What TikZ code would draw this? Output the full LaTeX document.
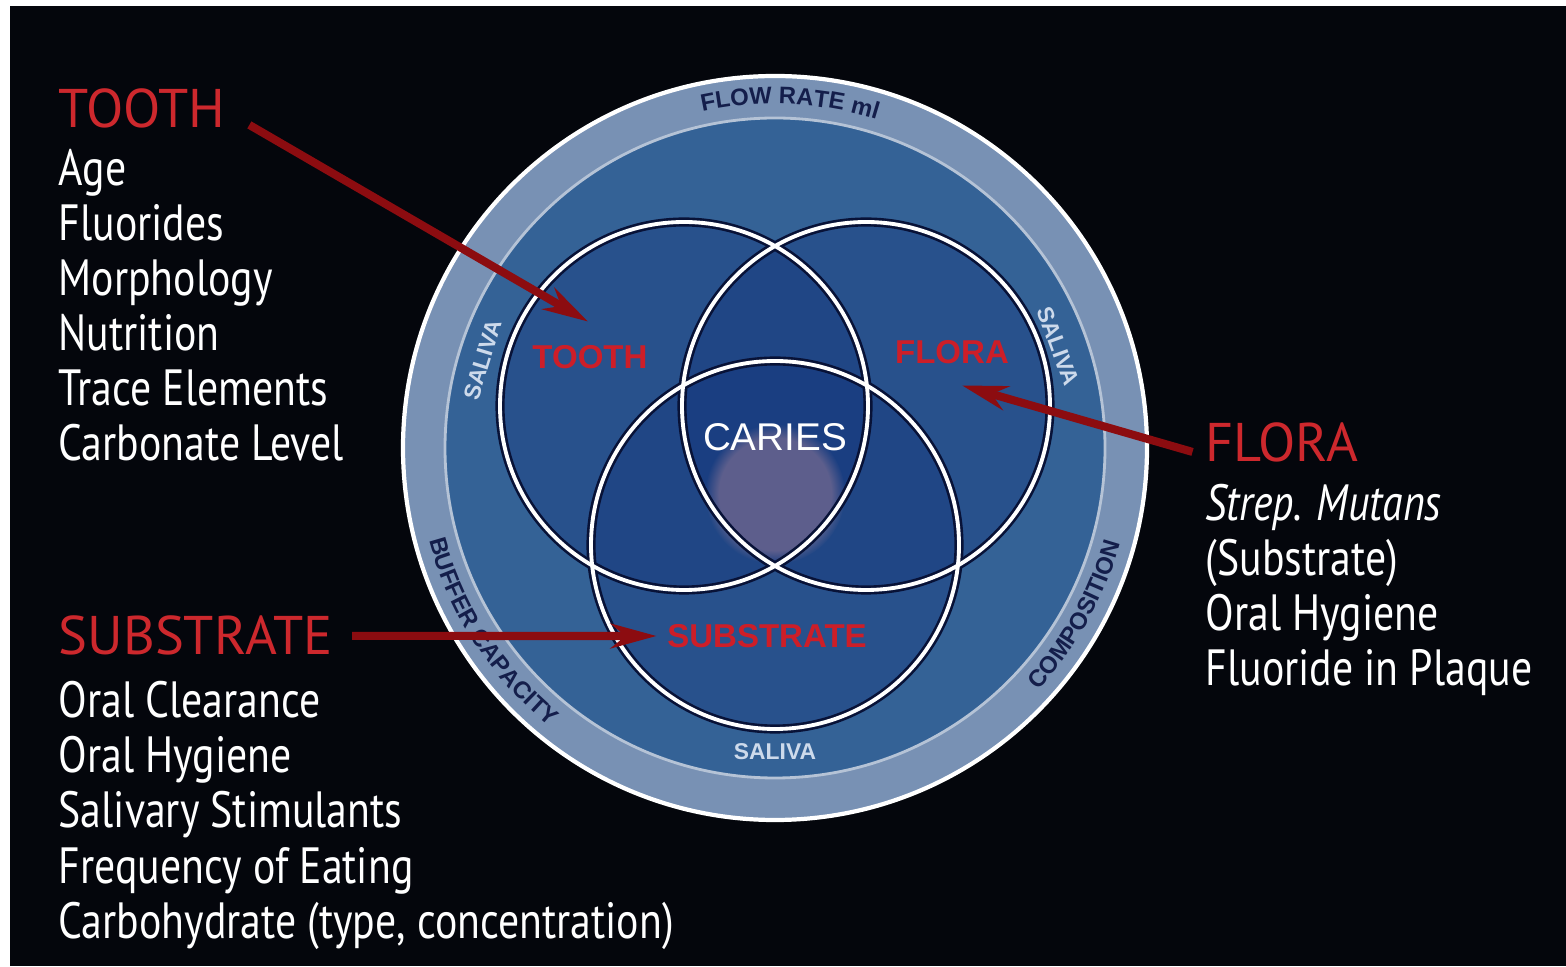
\documentclass[tikz,border=0pt]{standalone}
\usepackage{fontspec}
\setmainfont[FakeStretch=0.82]{PT Sans}
\newfontfamily\headfont{PT Sans}
\setsansfont{Liberation Sans}
\usetikzlibrary{arrows.meta, positioning, decorations.text, fadings}
\definecolor{bgblack}{RGB}{4,6,12}
\definecolor{ringblue}{RGB}{120,145,180}
\definecolor{diskblue}{RGB}{52,98,150}
\definecolor{setblue}{RGB}{15,45,120}
\definecolor{edgenavy}{RGB}{8,18,55}
\definecolor{headred}{RGB}{205,40,45}
\definecolor{labelred}{RGB}{205,30,40}
\definecolor{arrowred}{RGB}{140,12,16}
\definecolor{glowpink}{RGB}{175,135,155}
\definecolor{salivawhite}{RGB}{205,218,235}
\definecolor{ringtext}{RGB}{20,30,75}
\tikzstyle{heading}=[text=headred, font=\headfont\fontsize{15.5}{16}\selectfont, inner sep=3pt, anchor=base west]
\tikzstyle{factors}=[text=white, align=left, font=\fontsize{14.5}{15.65}\selectfont, inner sep=0pt, anchor=base west]
\tikzstyle{setlabel}=[text=labelred, font=\sffamily\bfseries\fontsize{9.4}{10}\selectfont, inner sep=2pt]
\tikzstyle{saliva}=[text=salivawhite, font=\sffamily\bfseries\fontsize{6.5}{7}\selectfont, inner sep=1pt]
\tikzstyle{pointer}=[arrowred, line width=2.3pt, -{Stealth[length=13pt,width=7pt]}]
\tikzstyle{ringlabel}=[decorate, decoration={text along path, text align=center, text color=ringtext}]

\begin{document}
\begin{tikzpicture}[x=0.1mm, y=0.1mm]
  \useasboundingbox (0,0) rectangle (1566,966);
  \fill[white] (0,0) rectangle (1566,966);
  \fill[bgblack] (10,0) rectangle (1566,960);

  % saliva ring and disk
  \coordinate (c) at (775,518);
  \fill[ringblue] (c) circle (372);
  \draw[white, line width=1.2pt] (c) circle (372);
  \fill[diskblue] (c) circle (330);
  \draw[ringblue!55!white, line width=0.8pt] (c) circle (330);

  % the three sets
  \coordinate (ct) at (684,560);
  \coordinate (cf) at (866,560);
  \coordinate (cs) at (775,421);
  \foreach \p in {ct, cf, cs}
    \fill[setblue, fill opacity=0.3] (\p) circle (184);
  \fill[glowpink, path fading=circle with fuzzy edge 20 percent, opacity=0.45] (775,472) circle (70);
  \foreach \p in {ct, cf, cs}
    \draw[edgenavy, line width=2.6pt] (\p) circle (184);
  \foreach \p in {ct, cf, cs}
    \draw[white, line width=1.1pt] (\p) circle (184);

  % ring texts
  \path[ringlabel, decoration={text={|\sffamily\bfseries\fontsize{6.8}{7}\selectfont|FLOW RATE ml}}]
    ([shift={(110:344)}]c) arc[start angle=110, end angle=65, radius=344];
  \path[ringlabel, decoration={text={|\sffamily\bfseries\fontsize{6.8}{7}\selectfont|BUFFER CAPACITY}}]
    ([shift={(186:358)}]c) arc[start angle=186, end angle=240, radius=358];
  \path[ringlabel, decoration={text={|\sffamily\bfseries\fontsize{6.8}{7}\selectfont|COMPOSITION}}]
    ([shift={(305:358)}]c) arc[start angle=305, end angle=357, radius=358];

  \node[saliva, rotate=73] (salivaw) at (483,606) {SALIVA};
  \node[saliva, rotate=-70] (salivae) at (1058,620) {SALIVA};
  \node[saliva] (salivas) at (775,214) {SALIVA};

  % labels inside
  \node[setlabel] (toothin) at (590,609) {TOOTH};
  \node[setlabel] (florain) at (952,614) {FLORA};
  \node[setlabel] (substin) at (767,330) {SUBSTRATE};
  \node[text=white, font=\sffamily\fontsize{11}{12}\selectfont] (caries) at (775,529) {CARIES};

  % factor lists (base = last line)
  \node[heading] (tooth) at (47.5,838) {TOOTH};
  \node[factors] (toothlist) at (58,505) {Age\\Fluorides\\Morphology\\Nutrition\\Trace Elements\\Carbonate Level};
  \node[heading] (subst) at (47.5,311) {SUBSTRATE};
  \node[factors] (substlist) at (58,28) {Oral Clearance\\Oral Hygiene\\Salivary Stimulants\\Frequency of Eating\\Carbohydrate (type, concentration)};
  \node[heading] (flora) at (1194.5,504) {FLORA};
  \node[factors] (floralist) at (1205,280) {\textit{Strep. Mutans}\\(Substrate)\\Oral Hygiene\\Fluoride in Plaque};

  % arrows
  \draw[pointer] ([shift={(13,-16)}]tooth.east) -- ([shift={(-2,16)}]toothin.north);
  \draw[pointer] ([shift={(-2,-9)}]flora.west) -- ([shift={(10,-14)}]florain.south);
  \draw[pointer] ([shift={(8,0)}]subst.east) -- ([shift={(-3,0)}]substin.west);
\end{tikzpicture}
\end{document}
